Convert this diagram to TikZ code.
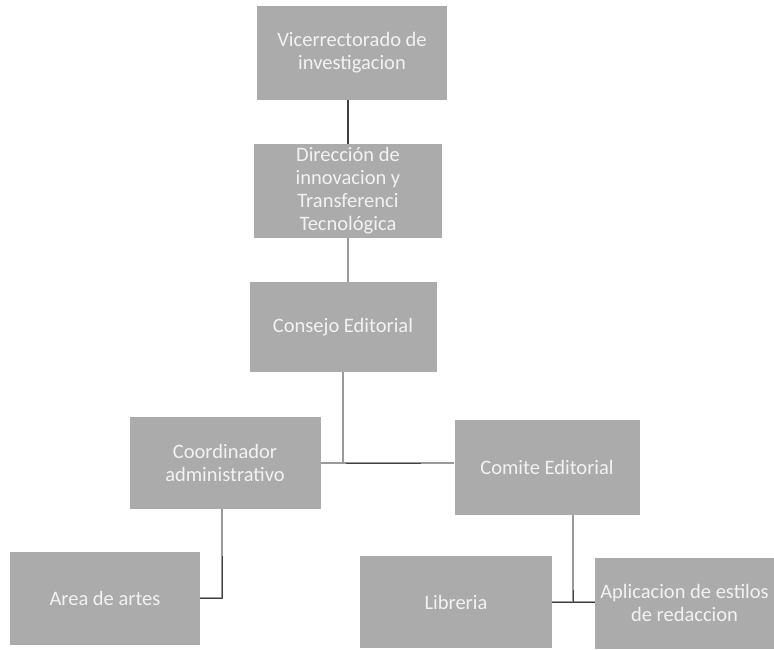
\documentclass[tikz,border=0pt]{standalone}
\usepackage{fontspec}
\setmainfont{Carlito}
\begin{document}
\begin{tikzpicture}[x=1pt,y=-1pt,
  orgbox/.style={draw=none,fill=boxgray,text=boxtext,align=center,inner sep=0pt,
    font=\fontsize{20.5}{23}\selectfont},
  link/.style={draw=linegray,line width=1.3pt},
  darklink/.style={draw=black!75,line width=1pt}]
\definecolor{boxgray}{HTML}{ABABAB}
\definecolor{boxtext}{HTML}{F2F2F2}
\definecolor{linegray}{HTML}{9A9A9A}
\useasboundingbox (0,0) rectangle (774,649);
\fill[white] (0,0) rectangle (774,649);
\node[orgbox,minimum width=190pt,minimum height=94pt] (v) at (352,53) {Vicerrectorado de\\investigacion};
\node[orgbox,minimum width=188pt,minimum height=94pt] (d) at (348,191) {Dirección de\\innovacion y\\Transferenci\\Tecnológica};
\node[orgbox,minimum width=187pt,minimum height=90pt] (c) at (343,327) {Consejo Editorial};
\node[orgbox,minimum width=191pt,minimum height=92pt] (co) at (225,463) {Coordinador\\administrativo};
\node[orgbox,minimum width=185pt,minimum height=95pt] (ce) at (547,467) {Comite Editorial};
\node[orgbox,minimum width=190pt,minimum height=93pt] (ar) at (105,598) {Area de artes};
\node[orgbox,minimum width=192pt,minimum height=92pt] (li) at (456,602) {Libreria};
\node[orgbox,minimum width=179pt,minimum height=91pt] (ap) at (684.5,603) {Aplicacion de estilos\\de redaccion};
% connectors
\draw[darklink,line width=1.5pt] (d.north |- v.south) -- (d.north);
\draw[link] (d.south) -- (d.south |- c.north);
\coordinate (j) at (c.south |- co.east);
\draw[link] (c.south) -- (j);
\draw[link] (co.east) -- (co.east -| ce.west);
\draw[darklink] ([xshift=3pt]j) -- ([xshift=78pt]j);
\coordinate (ka) at ([xshift=-3pt]co.south |- ar.east);
\draw[link] ([xshift=-3pt]co.south) -- (ka) -- (ar.east);
\draw[darklink] ([yshift=42pt]ka) -- (ka) -- (ar.east);
\coordinate (kb) at ([xshift=26pt]ce.south |- li.east);
\draw[link] ([xshift=26pt]ce.south) -- (kb);
\draw[link] (li.east) -- (li.east -| ap.west);
\draw[darklink] ([yshift=12pt]kb) -- (kb);
\draw[darklink] (li.east) -- (li.east -| ap.west);
\end{tikzpicture}
\end{document}
